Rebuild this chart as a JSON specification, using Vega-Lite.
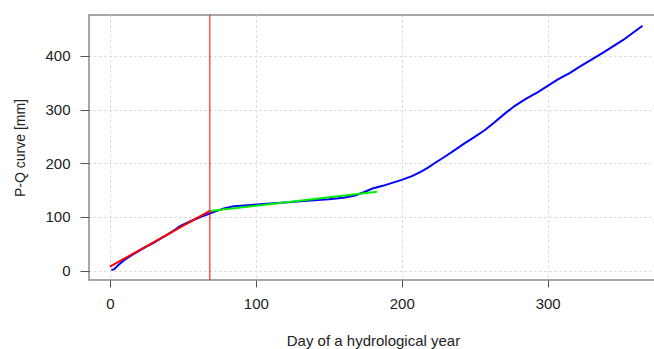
{
  "$schema": "https://vega.github.io/schema/vega-lite/v6.json",
  "width": 568,
  "height": 265,
  "autosize": {"type": "none"},
  "padding": {"left": 89, "top": 15, "right": 0, "bottom": 69},
  "background": "white",
  "config": {
    "view": {"stroke": "#8a8a8a", "strokeWidth": 1.5},
    "font": "Liberation Sans",
    "axis": {
      "domain": false,
      "labelFont": "Liberation Sans",
      "titleFont": "Liberation Sans",
      "labelFontSize": 15,
      "titleFontSize": 14,
      "titleFontWeight": "normal",
      "labelColor": "#222",
      "titleColor": "#222",
      "tickColor": "#555",
      "gridColor": "#d0d0d0",
      "gridDash": [2, 3],
      "gridWidth": 1
    }
  },
  "datasets": {
    "curves": [
      {"day": 1, "pq": 1, "series": "obs"},
      {"day": 3, "pq": 3, "series": "obs"},
      {"day": 6, "pq": 11, "series": "obs"},
      {"day": 10, "pq": 20, "series": "obs"},
      {"day": 15, "pq": 29, "series": "obs"},
      {"day": 20, "pq": 37, "series": "obs"},
      {"day": 25, "pq": 45, "series": "obs"},
      {"day": 30, "pq": 52, "series": "obs"},
      {"day": 35, "pq": 60, "series": "obs"},
      {"day": 40, "pq": 68, "series": "obs"},
      {"day": 45, "pq": 77, "series": "obs"},
      {"day": 48, "pq": 83, "series": "obs"},
      {"day": 52, "pq": 88, "series": "obs"},
      {"day": 56, "pq": 93, "series": "obs"},
      {"day": 62, "pq": 100, "series": "obs"},
      {"day": 68, "pq": 106, "series": "obs"},
      {"day": 72, "pq": 110, "series": "obs"},
      {"day": 78, "pq": 116, "series": "obs"},
      {"day": 85, "pq": 120, "series": "obs"},
      {"day": 95, "pq": 122, "series": "obs"},
      {"day": 105, "pq": 124, "series": "obs"},
      {"day": 120, "pq": 127, "series": "obs"},
      {"day": 135, "pq": 130, "series": "obs"},
      {"day": 150, "pq": 133, "series": "obs"},
      {"day": 160, "pq": 136, "series": "obs"},
      {"day": 168, "pq": 140, "series": "obs"},
      {"day": 174, "pq": 146, "series": "obs"},
      {"day": 180, "pq": 153, "series": "obs"},
      {"day": 187, "pq": 158, "series": "obs"},
      {"day": 194, "pq": 164, "series": "obs"},
      {"day": 200, "pq": 169, "series": "obs"},
      {"day": 207, "pq": 176, "series": "obs"},
      {"day": 213, "pq": 184, "series": "obs"},
      {"day": 218, "pq": 192, "series": "obs"},
      {"day": 223, "pq": 201, "series": "obs"},
      {"day": 230, "pq": 213, "series": "obs"},
      {"day": 236, "pq": 224, "series": "obs"},
      {"day": 243, "pq": 237, "series": "obs"},
      {"day": 250, "pq": 249, "series": "obs"},
      {"day": 257, "pq": 262, "series": "obs"},
      {"day": 263, "pq": 275, "series": "obs"},
      {"day": 270, "pq": 291, "series": "obs"},
      {"day": 277, "pq": 306, "series": "obs"},
      {"day": 285, "pq": 320, "series": "obs"},
      {"day": 293, "pq": 332, "series": "obs"},
      {"day": 300, "pq": 344, "series": "obs"},
      {"day": 307, "pq": 356, "series": "obs"},
      {"day": 315, "pq": 368, "series": "obs"},
      {"day": 322, "pq": 380, "series": "obs"},
      {"day": 330, "pq": 393, "series": "obs"},
      {"day": 338, "pq": 406, "series": "obs"},
      {"day": 345, "pq": 418, "series": "obs"},
      {"day": 352, "pq": 430, "series": "obs"},
      {"day": 358, "pq": 442, "series": "obs"},
      {"day": 365, "pq": 456, "series": "obs"},
      {"day": 0, "pq": 7.5, "series": "fit1"},
      {"day": 68.5, "pq": 111.5, "series": "fit1"},
      {"day": 68.5, "pq": 111, "series": "fit2"},
      {"day": 183, "pq": 147, "series": "fit2"}
    ],
    "breakpoint": [{"day": 68.5}]
  },
  "layer": [
    {
      "data": {"name": "curves"},
      "mark": {"type": "line", "strokeWidth": 2, "clip": true},
      "encoding": {
        "x": {
          "field": "day", "type": "quantitative",
          "scale": {"domain": [-14.3, 374.9], "nice": false, "zero": false},
          "axis": {
            "values": [0, 100, 200, 300],
            "title": "Day of a hydrological year",
            "titleFontSize": 15,
            "tickSize": 7,
            "labelPadding": 9,
            "titleY": 65,
            "titleBaseline": "alphabetic",
            "grid": true
          }
        },
        "y": {
          "field": "pq", "type": "quantitative",
          "scale": {"domain": [-17.3, 476], "nice": false, "zero": false},
          "axis": {
            "values": [0, 100, 200, 300, 400],
            "title": "P-Q curve [mm]",
            "tickSize": 9,
            "labelPadding": 10,
            "titleX": -65,
            "titleAngle": -90,
            "titleBaseline": "alphabetic",
            "grid": true
          }
        },
        "color": {
          "field": "series", "type": "nominal",
          "scale": {"domain": ["obs", "fit1", "fit2"], "range": ["#0000ff", "#ff0000", "#00ee00"]},
          "legend": null
        },
        "order": {"field": "day"}
      }
    },
    {
      "data": {"name": "breakpoint"},
      "mark": {"type": "rule", "color": "#ff0000", "strokeWidth": 1},
      "encoding": {"x": {"field": "day", "type": "quantitative"}}
    }
  ]
}
